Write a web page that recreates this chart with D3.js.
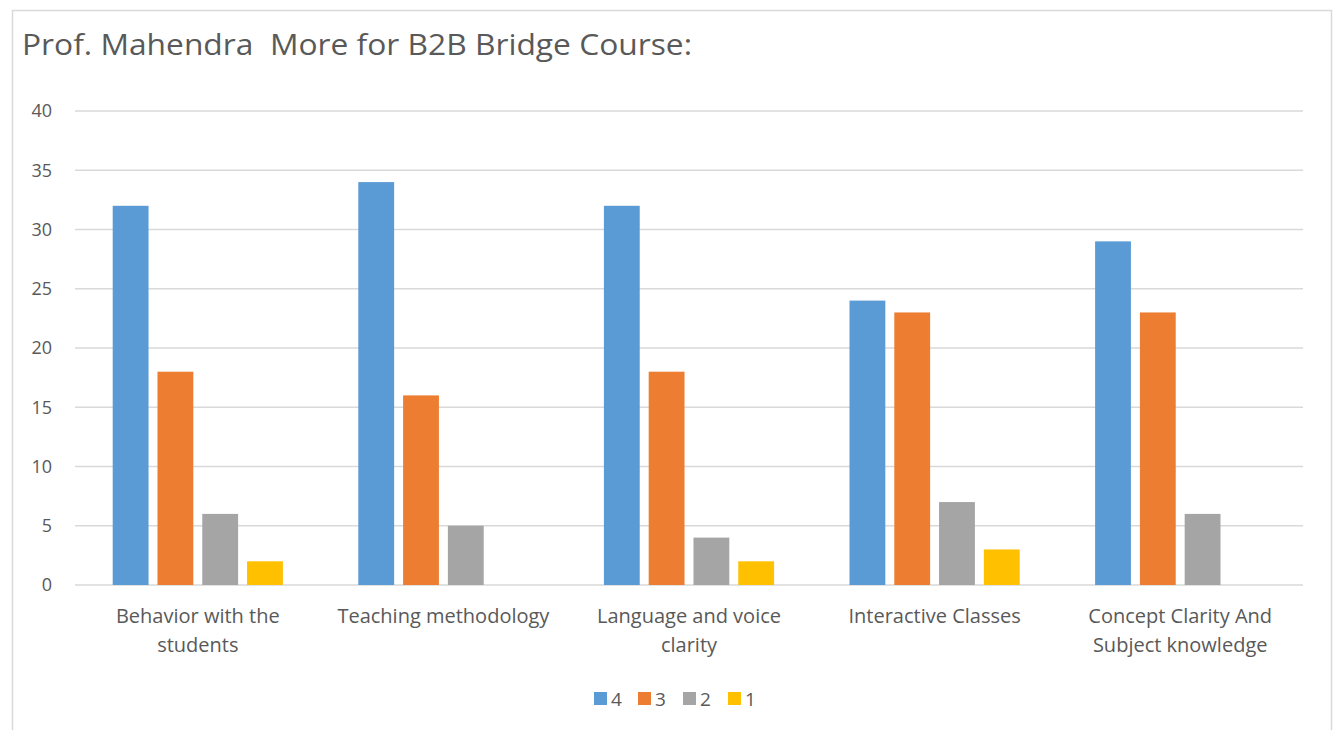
<!DOCTYPE html>
<html><head><meta charset="utf-8">
<script src="https://cdn.jsdelivr.net/npm/d3@7"></script>
<style>body{margin:0;background:#fff}svg{display:block}text{font-family:"Open Sans",sans-serif;fill:#595959}</style>
</head><body><svg id="c" width="1337" height="730"></svg>
<script>
const categories = [["Behavior with the","students"],["Teaching methodology"],["Language and voice","clarity"],["Interactive Classes"],["Concept Clarity And","Subject knowledge"]];
const seriesNames = ["4","3","2","1"];
const seriesColors = ["#5B9BD5","#ED7D31","#A5A5A5","#FFC000"];
const s4 = [32,34,32,24,29];
const s3 = [18,16,18,23,23];
const s2 = [6,5,4,7,6];
const s1 = [2,0,2,3,0];
const yTicks = [0,5,10,15,20,25,30,35,40];
const title = "Prof. Mahendra  More for B2B Bridge Course:";

const values = [s4,s3,s2,s1];
const svg = d3.select("#c");
svg.append("rect").attr("x",12.5).attr("y",10.5).attr("width",1319).attr("height",740)
  .attr("fill","#fff").attr("stroke","#d9d9d9").attr("stroke-width",1.5);

const L=75,R=1303,T=111,B=585;
const catIdx = categories.map((d,i)=>i);
const x0 = d3.scaleBand().domain(catIdx).range([L,R]).padding(0);
const y = d3.scaleLinear().domain([0,40]).range([B,T]);

svg.append("text").attr("x",22).attr("y",55).attr("font-size",29).style("white-space","pre")
  .attr("textLength",670).attr("lengthAdjust","spacingAndGlyphs").text(title);

const g = svg.append("g");
g.selectAll("line.grid").data(yTicks).enter().append("line")
  .attr("x1",L).attr("x2",R).attr("y1",d=>y(d)).attr("y2",d=>y(d))
  .attr("stroke","#d9d9d9").attr("stroke-width",1.5);
g.selectAll("text.yt").data(yTicks).enter().append("text")
  .attr("x",52).attr("y",d=>y(d)).attr("dy","0.35em").attr("text-anchor","end")
  .attr("font-size",18).text(d=>d);

catIdx.forEach(ci=>{
  const c = x0(ci)+x0.bandwidth()/2;
  const x1 = d3.scaleBand().domain(seriesNames).range([c-85.1,c+85.1]).paddingInner(0.2);
  seriesNames.forEach((s,si)=>{
    const v = values[si][ci];
    if(v>0) g.append("rect").attr("x",x1(s)).attr("width",x1.bandwidth())
      .attr("y",y(v)).attr("height",y(0)-y(v)).attr("fill",seriesColors[si]);
  });
  const lines = categories[ci];
  lines.forEach((t,li)=>{
    g.append("text").attr("x",c).attr("y",616+li*29).attr("dy","0.35em")
      .attr("text-anchor","middle").attr("font-size",20).text(t);
  });
});

const leg = svg.append("g");
const legX = [594,638,683,728];
seriesNames.forEach((s,i)=>{
  leg.append("rect").attr("x",legX[i]).attr("y",692).attr("width",13).attr("height",13).attr("fill",seriesColors[i]);
  leg.append("text").attr("x",legX[i]+17).attr("y",699).attr("dy","0.35em").attr("font-size",19).text(s);
});
</script></body></html>
